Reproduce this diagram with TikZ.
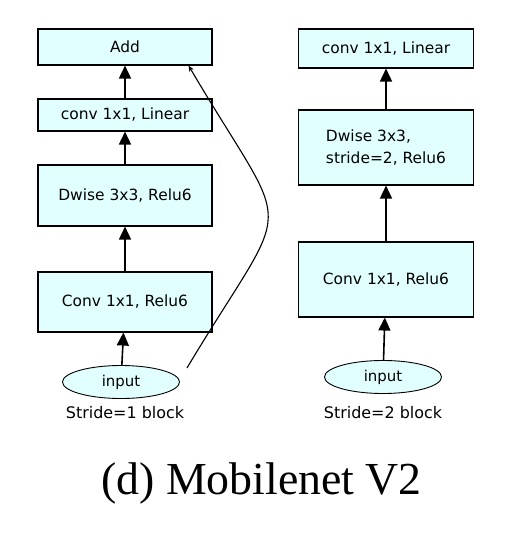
\documentclass[tikz,border=0pt]{standalone}
\usepackage{xcolor}
\usepackage{fontspec}
\setmainfont{DejaVu Sans}
\newfontfamily\captionfont{Liberation Serif}
\usetikzlibrary{shapes.geometric,arrows.meta}
\definecolor{boxcyan}{HTML}{E2FFFF}

\begin{document}
\begin{tikzpicture}[x=1bp, y=-1bp, >={Triangle[length=13bp,width=12bp]},
  every block/.style={draw=black, line width=1.1bp, fill=boxcyan, inner sep=0pt,
    minimum width=174bp, font=\fontsize{15.5}{22}\selectfont},
  every input/.style={ellipse, draw=black, line width=0.9bp, fill=boxcyan, inner sep=0pt,
    minimum width=117bp, minimum height=33bp, font=\fontsize{15}{18}\selectfont},
  every stride/.style={font=\fontsize{16}{19}\selectfont}]

\useasboundingbox (0,0) rectangle (510,537);

\foreach \n/\t/\y/\h in {add/Add/47/36, linear-1/{conv 1x1, Linear}/115/32,
    dwise-1/{Dwise 3x3, Relu6}/195.5/61, expand-1/{Conv 1x1, Relu6}/302/60}
  \node [every block/.try, minimum height=\h bp] (\n) at (125,\y) {\t};

\foreach \n/\t/\y/\h in {linear-2/{conv 1x1, Linear}/48.5/39,
    dwise-2/{Dwise 3x3,\\stride=2, Relu6}/147.5/75, expand-2/{Conv 1x1, Relu6}/279.5/75}
  \node [every block/.try, minimum width=175bp, minimum height=\h bp, align=left] (\n) at (386,\y) {\t};

\node [every input/.try] (input-1) at (121,382) {input};
\node [every input/.try] (input-2) at (383,377) {input};

\node [every stride/.try] (stride-1) at (125,413) {Stride=1 block};
\node [every stride/.try] (stride-2) at (383,413) {Stride=2 block};

\foreach \a/\b in {input-1/expand-1, expand-1/dwise-1, dwise-1/linear-1, linear-1/add,
    input-2/expand-2, expand-2/dwise-2, dwise-2/linear-2}
  \draw [->, line width=1.6bp] (\a) -- (\b);

% shortcut
\draw [-{Stealth[length=6bp,width=5bp]}, line width=1.1bp]
  ([shift={(7,-14)}]input-1.east) .. controls +(108,-180) and +(106,180) .. ([xshift=-24bp]add.south east);

\node [font=\captionfont\fontsize{46}{50}\selectfont, anchor=base] (caption) at (261.5,494) {(d) Mobilenet V2};

\end{tikzpicture}
\end{document}
